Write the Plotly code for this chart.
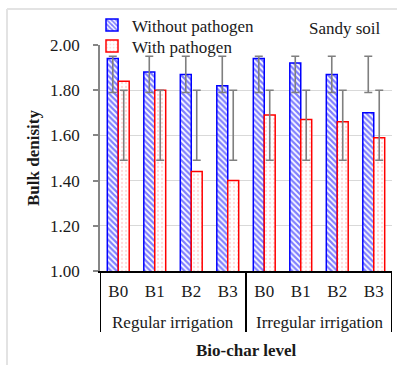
import plotly.graph_objects as go

# ---- data -------------------------------------------------------------
biochar_levels = ["B0", "B1", "B2", "B3", "B0", "B1", "B2", "B3"]
irrigation_groups = ["Regular irrigation", "Irregular irrigation"]

without_pathogen = [1.94, 1.88, 1.87, 1.82, 1.94, 1.92, 1.87, 1.70]
with_pathogen = [1.84, 1.80, 1.44, 1.40, 1.69, 1.67, 1.66, 1.59]

# error-bar extents (low, high) for each series
without_err_low = [1.79, 1.79, 1.79, 1.79, 1.79, 1.79, 1.79, 1.79]
without_err_high = [1.95, 1.95, 1.95, 1.95, 1.95, 1.95, 1.95, 1.95]
with_err_low = [1.49, 1.49, 1.49, 1.49, 1.49, 1.49, 1.49, 1.49]
with_err_high = [1.80, 1.80, 1.80, 1.80, 1.80, 1.80, 1.80, 1.80]

y_ticks = [1.00, 1.20, 1.40, 1.60, 1.80, 2.00]

# ---- layout geometry helpers ------------------------------------------
W, H = 400, 365
PLOT_L, PLOT_R, PLOT_T, PLOT_B = 100, 392, 45, 271


def paper_x(px):
    return (px - PLOT_L) / (PLOT_R - PLOT_L)


def paper_y(py):
    return (PLOT_B - py) / (PLOT_B - PLOT_T)


FONT = "Liberation Serif"
TXT = "#1a1a1a"
ERR = "#7f7f7f"
BAR_W = 0.3

x_pos = list(range(len(biochar_levels)))

fig = go.Figure()

fig.add_trace(go.Bar(
    x=x_pos, y=without_pathogen, name="Without pathogen",
    width=BAR_W, offset=-BAR_W, legend="legend",
    marker=dict(
        color="white",
        line=dict(color="#0000ff", width=1.5),
        pattern=dict(shape="\\", fgcolor="#0000ff", bgcolor="white",
                     size=4, solidity=0.55),
    ),
))
fig.add_trace(go.Bar(
    x=x_pos, y=with_pathogen, name="With pathogen",
    width=BAR_W, offset=0, legend="legend2",
    marker=dict(
        color="white",
        line=dict(color="#ff0000", width=1.5),
        pattern=dict(shape=".", fgcolor="#ffb3b3", bgcolor="white",
                     size=4, solidity=0.25),
    ),
))


def add_error_bars(lows, highs, shift):
    centers = [(lo + hi) / 2 for lo, hi in zip(lows, highs)]
    halves = [(hi - lo) / 2 for lo, hi in zip(lows, highs)]
    fig.add_trace(go.Scatter(
        x=[x + shift for x in x_pos], y=centers, mode="markers",
        marker=dict(size=1, opacity=0),
        error_y=dict(type="data", array=halves, visible=True,
                     color=ERR, thickness=1.6, width=4),
        showlegend=False, hoverinfo="skip",
    ))


add_error_bars(without_err_low, without_err_high, -BAR_W / 2)
add_error_bars(with_err_low, with_err_high, BAR_W / 2)

# ---- axes -------------------------------------------------------------
fig.update_xaxes(
    range=[-0.5, len(x_pos) - 0.5],
    tickmode="array", tickvals=x_pos, ticktext=biochar_levels,
    showgrid=False, zeroline=False,
    showline=True, linecolor="black", linewidth=2,
    ticks="", ticklabelstandoff=4,
    tickfont=dict(family=FONT, size=17, color=TXT),
    fixedrange=True,
)
fig.update_yaxes(
    range=[1.0, 2.0], tickmode="array", tickvals=y_ticks,
    tickformat=".2f",
    showgrid=True, gridcolor="#d9d9d9", gridwidth=1,
    zeroline=False,
    showline=True, linecolor="#868686", linewidth=1.5,
    ticks="outside", ticklen=5, tickcolor="#868686", tickwidth=1.5,
    ticklabelstandoff=10,
    tickfont=dict(family=FONT, size=17, color=TXT),
    fixedrange=True,
)

# ---- category boxes under the axis ------------------------------------
shapes = []
for xb in (-0.5, 3.5, len(x_pos) - 0.5):
    shapes.append(dict(type="line", xref="x", yref="paper",
                       x0=xb, x1=xb, y0=0, y1=paper_y(332),
                       line=dict(color="black", width=2)))
# legend backdrop hiding the top gridline behind the legend text
shapes.append(dict(type="rect", xref="paper", yref="paper", layer="between",
                   x0=paper_x(104), x1=paper_x(240),
                   y0=paper_y(48), y1=paper_y(42),
                   fillcolor="white", line=dict(width=0)))
# light frame around the figure
shapes.append(dict(type="line", xref="paper", yref="paper",
                   x0=paper_x(7), x1=paper_x(397), y0=paper_y(9), y1=paper_y(9),
                   line=dict(color="#e3e3e3", width=2)))
shapes.append(dict(type="line", xref="paper", yref="paper",
                   x0=paper_x(7), x1=paper_x(7), y0=paper_y(9), y1=paper_y(366),
                   line=dict(color="#e3e3e3", width=2)))

annotations = []
for i, grp in enumerate(irrigation_groups):
    annotations.append(dict(
        text=grp, xref="x", yref="paper", x=1.5 + 4 * i, y=paper_y(322),
        showarrow=False, xanchor="center", yanchor="middle",
        font=dict(family=FONT, size=17, color=TXT)))
annotations.append(dict(
    text="<b>Bio-char level</b>", xref="paper", yref="paper",
    x=paper_x(246), y=paper_y(350), showarrow=False,
    xanchor="center", yanchor="middle",
    font=dict(family=FONT, size=17, color=TXT)))
annotations.append(dict(
    text="<b>Bulk denisity</b>", xref="paper", yref="paper",
    x=paper_x(33), y=0.5, showarrow=False, textangle=-90,
    xanchor="center", yanchor="middle",
    font=dict(family=FONT, size=17, color=TXT)))
annotations.append(dict(
    text="Sandy soil", xref="paper", yref="paper",
    x=paper_x(345), y=paper_y(28), showarrow=False,
    xanchor="center", yanchor="middle",
    font=dict(family=FONT, size=17, color=TXT)))

legend_style = dict(
    xanchor="left", yanchor="middle",
    bgcolor="rgba(0,0,0,0)", borderwidth=0,
    font=dict(family=FONT, size=17, color=TXT),
    itemwidth=30,
)

fig.update_layout(
    width=W, height=H, autosize=False,
    margin=dict(l=PLOT_L, r=W - PLOT_R, t=PLOT_T, b=H - PLOT_B, pad=0),
    paper_bgcolor="white", plot_bgcolor="white",
    barmode="overlay",
    showlegend=True,
    legend=dict(x=paper_x(92), y=paper_y(25.5), **legend_style),
    legend2=dict(x=paper_x(92), y=paper_y(46.5), **legend_style),
    shapes=shapes,
    annotations=annotations,
)

fig.write_html("out.html")
